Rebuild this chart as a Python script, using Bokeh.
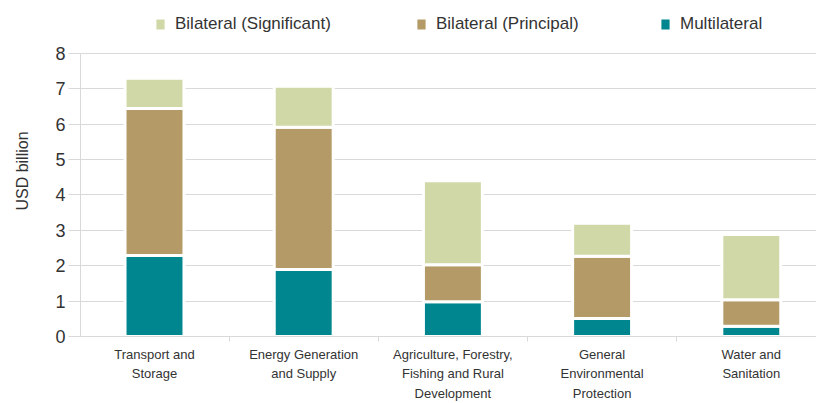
from bokeh.plotting import figure
from bokeh.models import (ColumnDataSource, Range1d, FixedTicker, Legend, LegendItem)
from bokeh.embed import file_html
from bokeh.resources import INLINE

# ---- data ----
categories = ["Transport and\nStorage", "Energy Generation\nand Supply",
              "Agriculture, Forestry,\nFishing and Rural\nDevelopment",
              "General\nEnvironmental\nProtection", "Water and\nSanitation"]
multilateral = [2.29, 1.89, 0.98, 0.51, 0.29]
bilateral_principal = [4.15, 4.02, 1.05, 1.76, 0.75]
bilateral_significant = [0.86, 1.16, 2.37, 0.93, 1.84]
series_names = ["Bilateral (Significant)", "Bilateral (Principal)", "Multilateral"]
y_ticks = [0, 1, 2, 3, 4, 5, 6, 7, 8]

FONT = "Liberation Sans"
TEAL = "#00868f"
TAN = "#b39a66"
SAGE = "#d0d8a8"
TXT = "#333333"
GRID = "#d9d9d9"

xs = list(range(len(categories)))
t1 = multilateral
t2 = [a + b for a, b in zip(t1, bilateral_principal)]
t3 = [a + b for a, b in zip(t2, bilateral_significant)]

src = ColumnDataSource(dict(x=xs, b0=[0] * len(xs), t1=t1, t2=t2, t3=t3))

# frame top reaches near the top of the figure so the legend sits inside it
p = figure(width=816, height=403, output_backend="svg", toolbar_location=None,
           x_range=Range1d(-0.496, 4.437), y_range=Range1d(0, 9.353),
           min_border_left=80, min_border_right=0, min_border_top=5,
           min_border_bottom=60)
p.outline_line_color = None
p.background_fill_color = "white"
p.border_fill_color = "white"

W = 0.395
r_m = p.vbar(x="x", bottom="b0", top="t1", width=W, source=src,
             fill_color=TEAL, line_color="white", line_width=3)
r_p = p.vbar(x="x", bottom="t1", top="t2", width=W, source=src,
             fill_color=TAN, line_color="white", line_width=3)
r_s = p.vbar(x="x", bottom="t2", top="t3", width=W, source=src,
             fill_color=SAGE, line_color="white", line_width=3)

# axes
p.xgrid.grid_line_color = None
p.ygrid.grid_line_color = GRID
p.ygrid.grid_line_width = 1

p.yaxis.ticker = FixedTicker(ticks=y_ticks)
p.yaxis.bounds = (0, 8)
p.yaxis.axis_line_color = GRID
p.yaxis.major_tick_line_color = GRID
p.yaxis.major_tick_out = 12
p.yaxis.major_tick_in = 0
p.yaxis.minor_tick_line_color = None
p.yaxis.major_label_text_font = FONT
p.yaxis.major_label_text_font_size = "18px"
p.yaxis.major_label_text_color = TXT
p.yaxis.major_label_standoff = 3
p.yaxis.axis_label = "USD billion"
p.yaxis.axis_label_text_font = FONT
p.yaxis.axis_label_text_font_size = "16px"
p.yaxis.axis_label_text_font_style = "normal"
p.yaxis.axis_label_text_color = TXT
p.yaxis.axis_label_standoff = 21

p.xaxis.ticker = FixedTicker(ticks=xs, minor_ticks=[-0.5, 0.5, 1.5, 2.5, 3.5, 4.5])
p.xaxis.major_label_overrides = {i: c for i, c in zip(xs, categories)}
p.xaxis.axis_line_color = GRID
p.xaxis.major_tick_line_color = None
p.xaxis.major_tick_out = 0
p.xaxis.major_tick_in = 0
p.xaxis.minor_tick_line_color = GRID
p.xaxis.minor_tick_out = 5
p.xaxis.minor_tick_in = 0
p.xaxis.major_label_text_font = FONT
p.xaxis.major_label_text_font_size = "13px"
p.xaxis.major_label_text_line_height = 1.3
p.xaxis.major_label_text_color = TXT
p.xaxis.major_label_standoff = 5

# legends (one per item so positions are fixed), inside the frame's top strip
for r, name, xoff in [(r_s, series_names[0], 73), (r_p, series_names[1], 334),
                      (r_m, series_names[2], 578)]:
    lg = Legend(items=[LegendItem(label=name, renderers=[r])], location=(xoff, 302),
                orientation="horizontal", border_line_color=None,
                background_fill_alpha=0, padding=0, margin=0,
                glyph_width=14, glyph_height=16, label_standoff=8,
                label_text_font=FONT, label_text_font_size="17px",
                label_text_color=TXT)
    p.add_layout(lg, "center")

open("out.html", "w").write(file_html(p, INLINE))
